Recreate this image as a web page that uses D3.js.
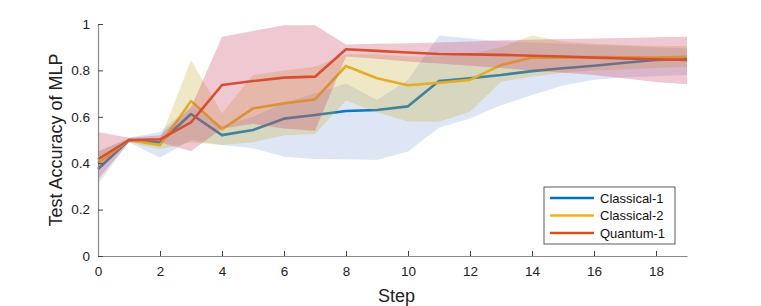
<!DOCTYPE html>
<html>
<head>
<meta charset="utf-8">
<script src="https://cdn.jsdelivr.net/npm/d3@7"></script>
<style>
  body{margin:0;background:#fff;}
  svg text{font-family:"Liberation Sans",Arial,Helvetica,sans-serif;}
</style>
</head>
<body>
<svg id="chart" width="761" height="306"></svg>
<script>
// data
var steps=[0,1,2,3,4,5,6,7,8,9,10,11,12,13,14,15,16,17,18,19];
var c1Mean=[0.375,0.50,0.489,0.612,0.521,0.543,0.592,0.608,0.625,0.629,0.645,0.754,0.766,0.780,0.797,0.809,0.820,0.833,0.845,0.848];
var c1Up=[0.45,0.51,0.535,0.65,0.56,0.60,0.66,0.70,0.744,0.672,0.76,0.95,0.938,0.925,0.92,0.915,0.91,0.905,0.90,0.895];
var c1Lo=[0.31,0.49,0.424,0.50,0.478,0.464,0.428,0.418,0.417,0.414,0.45,0.553,0.593,0.65,0.694,0.735,0.76,0.77,0.775,0.78];
var c2Mean=[0.40,0.50,0.478,0.668,0.546,0.636,0.658,0.675,0.819,0.766,0.736,0.747,0.759,0.823,0.856,0.855,0.858,0.857,0.855,0.859];
var c2Up=[0.45,0.505,0.50,0.845,0.615,0.78,0.80,0.816,0.87,0.87,0.86,0.86,0.87,0.90,0.95,0.925,0.915,0.91,0.905,0.905];
var c2Lo=[0.37,0.49,0.46,0.49,0.478,0.49,0.52,0.526,0.67,0.62,0.58,0.579,0.622,0.751,0.773,0.79,0.80,0.805,0.81,0.815];
var q1Mean=[0.417,0.50,0.503,0.576,0.737,0.754,0.769,0.773,0.891,0.884,0.877,0.871,0.869,0.867,0.863,0.860,0.855,0.851,0.848,0.845];
var q1Up=[0.535,0.51,0.52,0.64,0.945,0.97,0.995,0.995,0.912,0.915,0.917,0.92,0.925,0.93,0.932,0.935,0.938,0.94,0.943,0.945];
var q1Lo=[0.33,0.49,0.49,0.452,0.55,0.57,0.55,0.54,0.86,0.85,0.838,0.83,0.82,0.81,0.80,0.79,0.78,0.765,0.75,0.74];
var xTicks=[0,2,4,6,8,10,12,14,16,18];
var yTicks=[0,0.2,0.4,0.6,0.8,1];
var names=["Classical-1","Classical-2","Quantum-1"];

var series=[
  {name:names[0],mean:c1Mean,up:c1Up,lo:c1Lo,color:"#0072BD",fill:"rgb(90,130,205)",op:0.2},
  {name:names[1],mean:c2Mean,up:c2Up,lo:c2Lo,color:"#EDB120",fill:"rgb(195,170,45)",op:0.27},
  {name:names[2],mean:q1Mean,up:q1Up,lo:q1Lo,color:"#D95319",fill:"rgb(205,72,105)",op:0.3}
];

var svg=d3.select("#chart"),
 margin={top:24,right:74,bottom:50,left:98},
 width=+svg.attr("width")-margin.left-margin.right,
 height=+svg.attr("height")-margin.top-margin.bottom;

var g=svg.append("g").attr("transform","translate("+margin.left+","+margin.top+")");

var x=d3.scaleLinear().domain([0,19]).range([0,width]),
 y=d3.scaleLinear().domain([0,1]).range([height,0]);

var line=d3.line()
  .x(function(d,i){return x(steps[i]);})
  .y(function(d){return y(d);});

var area=d3.area()
  .x(function(d,i){return x(steps[i]);})
  .y0(function(d){return y(d[0]);})
  .y1(function(d){return y(d[1]);});

// each series: line first, then its shaded band over it
series.forEach(function(s){
  g.append("path")
    .attr("d",line(s.mean))
    .attr("fill","none")
    .attr("stroke",s.color)
    .attr("stroke-width",2.6)
    .attr("stroke-linejoin","round");
  g.append("path")
    .attr("d",area(s.lo.map(function(v,i){return [v,s.up[i]];})))
    .attr("fill",s.fill)
    .attr("fill-opacity",s.op)
    .attr("stroke","none");
});

// axes, matlab style ticks pointing inward
var xaxis=g.append("g")
  .attr("transform","translate(0,"+height+")")
  .call(d3.axisBottom(x).tickValues(xTicks).tickSizeInner(-5).tickSizeOuter(0).tickPadding(10));
var yaxis=g.append("g")
  .call(d3.axisLeft(y).tickValues(yTicks).tickSizeInner(-5).tickSizeOuter(0).tickPadding(8)
    .tickFormat(function(d){return d3.format("")(d);}));
[xaxis,yaxis].forEach(function(a){
  a.select(".domain").attr("stroke","#8a8a8a").attr("stroke-width",1.2);
  a.selectAll(".tick line").attr("stroke","#444");
  a.selectAll(".tick text").attr("font-size",13.5).attr("fill","#222");
});

svg.append("text")
  .attr("x",margin.left+width/2+4)
  .attr("y",302)
  .attr("text-anchor","middle")
  .attr("font-size",18)
  .attr("fill","#222")
  .text("Step");

svg.append("text")
  .attr("transform","translate(62,"+(margin.top+height/2)+") rotate(-90)")
  .attr("text-anchor","middle")
  .attr("font-size",18)
  .attr("fill","#222")
  .text("Test Accuracy of MLP");

// legend
var lg=svg.append("g").attr("transform","translate(544,187)");
lg.append("rect")
  .attr("width",131).attr("height",57)
  .attr("fill","#fff").attr("stroke","#333").attr("stroke-width",0.8);
series.forEach(function(s,i){
  var yy=11+i*17.5;
  lg.append("line")
    .attr("x1",6).attr("x2",50)
    .attr("y1",yy).attr("y2",yy)
    .attr("stroke",s.color).attr("stroke-width",2.6);
  lg.append("text")
    .attr("x",56).attr("y",yy+4.5)
    .attr("font-size",13)
    .attr("fill","#111")
    .text(s.name);
});
</script>
</body>
</html>
